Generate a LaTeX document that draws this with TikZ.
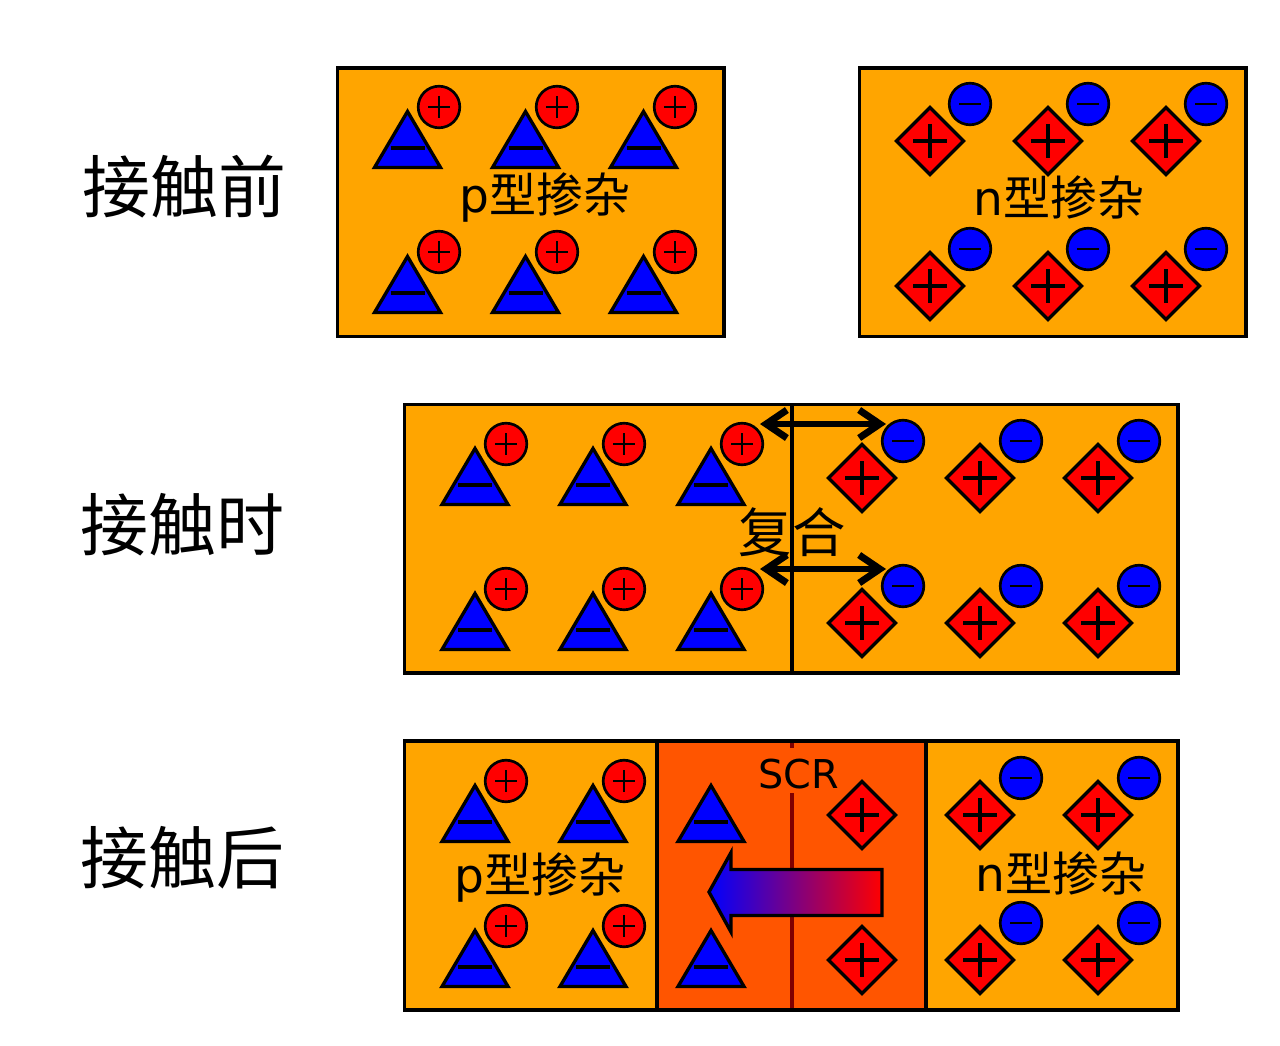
\documentclass[tikz,border=0pt]{standalone}
\usepackage{fontspec}
\usetikzlibrary{arrows.meta}
\setmainfont{DejaVu Sans}
\newfontfamily\cjk{Noto Sans CJK SC}
\definecolor{dop}{HTML}{FFA500}
\definecolor{scr}{HTML}{FF5500}
\definecolor{seam}{HTML}{800000}
\tikzset{
 panel/.style={draw=black,line width=2.3pt,fill=dop},
 ion/.style={draw=black,line width=2.5pt,miter limit=10},
 carrier/.style={draw=black,line width=2pt},
 sign/.style={draw=black,line width=1.9pt},
 bar/.style={draw=black,line width=2.5pt},
 big/.style={inner sep=0pt,font=\fontsize{51pt}{52pt}\selectfont\cjk},
 doped/.style={inner sep=0pt,font=\fontsize{35.3pt}{36pt}\selectfont},
 merge/.style={inner sep=0pt,font=\fontsize{40pt}{41pt}\selectfont\cjk},
 recomb/.style={draw=black,line width=5.2pt,{Straight Barb[length=15.5pt,width=21pt,line width=5.2pt]}-{Straight Barb[length=15.5pt,width=21pt,line width=5.2pt]}},
}
\newcommand{\holeC}[2]{\draw[carrier,fill=red] (#1,#2) circle[radius=20.8*0.75pt];\draw[sign] (#1-11,#2)--(#1+11,#2) (#1,#2-11)--(#1,#2+11);}
\newcommand{\elecC}[2]{\draw[carrier,fill=blue] (#1,#2) circle[radius=20.8*0.75pt];\draw[sign] (#1-11,#2)--(#1+11,#2);}
% acceptor: apex x, apex y (outer tip of the reference)
\newcommand{\accp}[2]{\draw[ion,fill=blue] (#1,#2+2.5)--(#1+33,#2+58.5)--(#1-33,#2+58.5)--cycle;\draw[bar] (#1-17,#2+39)--(#1+17,#2+39);}
% donor: centre x, centre y
\newcommand{\donr}[2]{\draw[ion,fill=red] (#1-33.5,#2)--(#1,#2-33.5)--(#1+33.5,#2)--(#1,#2+33.5)--cycle;\draw[bar] (#1-17,#2)--(#1+17,#2) (#1,#2-17)--(#1,#2+17);}
\begin{document}
\begin{tikzpicture}[x=0.75pt,y=-0.75pt]
\useasboundingbox (0,0) rectangle (1280,1045);
% row 1
\draw[panel] (337.3,68) rectangle (724,336.5);
\draw[panel] (859.3,68) rectangle (1246,336.5);
\foreach \dx in {0,118,236}{\foreach \dy in {0,145}{
  \pgfmathsetmacro{\ax}{407.5+\dx}\pgfmathsetmacro{\ay}{109+\dy}
  \pgfmathsetmacro{\cx}{439+\dx}\pgfmathsetmacro{\cy}{107+\dy}
  \pgfmathsetmacro{\dox}{930+\dx}\pgfmathsetmacro{\doy}{141+\dy}
  \pgfmathsetmacro{\ex}{970+\dx}\pgfmathsetmacro{\ey}{104+\dy}
  \accp{\ax}{\ay}\holeC{\cx}{\cy}\donr{\dox}{\doy}\elecC{\ex}{\ey}
}}
\node[doped] (p1) at (545,198) {p{\cjk 型掺杂}};
\node[doped] (n1) at (1059,197) {n{\cjk 型掺杂}};
\node[big] (l1) at (184,187) {接触前};
% row 2
\draw[panel] (404.5,404.8) rectangle (1178,673);
\draw[line width=3pt] (791.5,404.8)--(791.5,673);
\foreach \dx in {0,118,236}{\foreach \dy in {0,145}{
  \pgfmathsetmacro{\ax}{475+\dx}\pgfmathsetmacro{\ay}{446+\dy}
  \pgfmathsetmacro{\cx}{506+\dx}\pgfmathsetmacro{\cy}{444+\dy}
  \pgfmathsetmacro{\dox}{862+\dx}\pgfmathsetmacro{\doy}{478+\dy}
  \pgfmathsetmacro{\ex}{903+\dx}\pgfmathsetmacro{\ey}{441+\dy}
  \accp{\ax}{\ay}\holeC{\cx}{\cy}\donr{\dox}{\doy}\elecC{\ex}{\ey}
}}
\node[merge] (m) at (792,532) {复合};
\coordinate (a1) at (760,424);\coordinate (b1) at (886,424);
\coordinate (a2) at (760,569);\coordinate (b2) at (886,569);
\draw[recomb] (a1)--(b1);
\draw[recomb] (a2)--(b2);
\node[big] (l2) at (182,525) {接触时};
% row 3
\draw[panel] (404.5,741) rectangle (1178,1010);
\fill[scr] (657,741) rectangle (926,1010);
\draw[seam,line width=3pt] (791.5,741)--(791.5,1010);
\node[fill=scr,inner sep=0pt,minimum width=77*0.75pt,minimum height=45*0.75pt] (scrbg) at (797,770) {};
\node[inner sep=0pt,font=\fontsize{29.8pt}{30pt}\selectfont] (scrt) at (799,774) {SCR};
\draw[line width=2.3pt] (657,741) rectangle (926,1010);
\foreach \dy in {0,145}{
  \pgfmathsetmacro{\ay}{783+\dy}\pgfmathsetmacro{\cy}{781+\dy}
  \pgfmathsetmacro{\doy}{815+\dy}\pgfmathsetmacro{\ey}{778+\dy}
  \accp{475}{\ay}\holeC{506}{\cy}
  \accp{593}{\ay}\holeC{624}{\cy}
  \accp{711}{\ay}
  \donr{862}{\doy}
  \donr{980}{\doy}\elecC{1021}{\ey}
  \donr{1098}{\doy}\elecC{1139}{\ey}
}
\path[draw=black,line width=2.5pt,left color=blue,right color=red!100!black,miter limit=10]
  (709,892)--(731,852.5)--(731,869.5)--(882,869.5)--(882,915.5)--(731,915.5)--(731,932)--cycle;
\node[doped] (p3) at (540,877) {p{\cjk 型掺杂}};
\node[doped] (n3) at (1061,873) {n{\cjk 型掺杂}};
\node[big] (l3) at (182,858) {接触后};
\end{tikzpicture}
\end{document}
